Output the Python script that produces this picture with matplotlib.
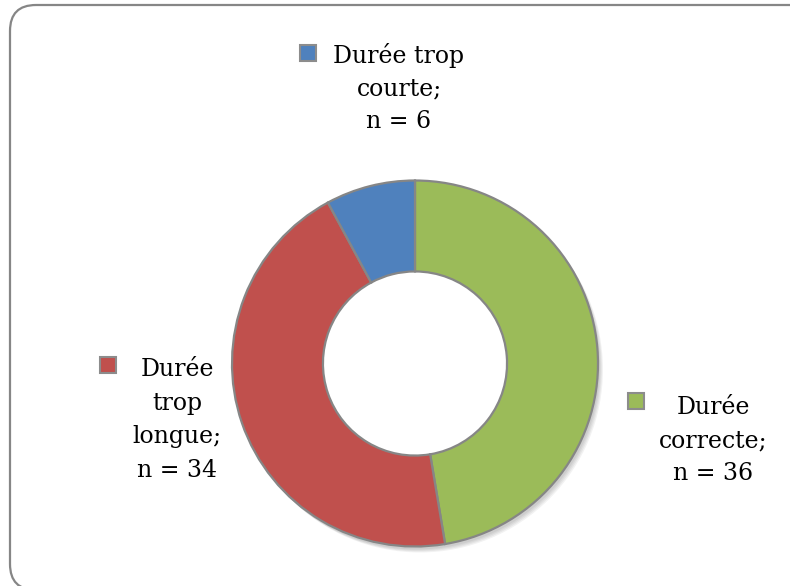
import matplotlib
matplotlib.use("Agg")
import matplotlib.pyplot as plt
from matplotlib.patches import FancyBboxPatch, Rectangle, Circle

categories = ["Durée correcte", "Durée trop longue", "Durée trop courte"]
values = [36, 34, 6]
colors = ["#9BBB59", "#C0504D", "#4F81BD"]
label_texts = ["Durée\ncorrecte;\nn = 36", "Durée\ntrop\nlongue;\nn = 34", "Durée trop\ncourte;\nn = 6"]

W, H = 790, 586
fig = plt.figure(figsize=(W / 100, H / 100), dpi=100)
ax = fig.add_axes([0, 0, 1, 1])
ax.set_xlim(0, W)
ax.set_ylim(0, H)
ax.set_aspect("equal")
ax.axis("off")

def Y(y):
    return H - y

# outer border (extends past right/bottom edges, as in the reference crop)
border = FancyBboxPatch((10, Y(590)), 840, 585,
                        boxstyle="round,pad=0,rounding_size=26",
                        facecolor="white", edgecolor="#868686", linewidth=1.6, zorder=0)
ax.add_patch(border)

cx, cy, R = 415, 363.5, 183
hole = R * 0.503
# soft shadow
for i in range(4):
    ax.add_patch(Circle((cx + 2 + i, Y(cy + 3 + i)), R, facecolor="black", alpha=0.05,
                        edgecolor="none", zorder=1))
ax.add_patch(Circle((cx, Y(cy)), hole, facecolor="white", edgecolor="none", zorder=1.5))

ax.pie(values, colors=colors, startangle=90, counterclock=False,
       center=(cx, Y(cy)), radius=R, frame=True,
       wedgeprops=dict(width=R - hole, edgecolor="#868686", linewidth=1.6, zorder=2))
ax.set_xlim(0, W)
ax.set_ylim(0, H)
ax.axis("off")

# labels: (marker x, marker y, text center x, first-line center y)
label_pos = [(628, 393, 713, 407), (100, 357, 177, 370), (300, 45, 399, 55)]
line_h = 33.5
for (mx, my, tx, ty), txt, col in zip(label_pos, label_texts, colors):
    ax.add_patch(Rectangle((mx, Y(my + 16)), 16, 16, facecolor=col,
                           edgecolor="#8c8c8c", linewidth=1.5, zorder=3))
    for k, line in enumerate(txt.split("\n")):
        ax.text(tx, Y(ty + k * line_h), line, ha="center", va="center",
                fontsize=17, family=["DejaVu Serif"], color="black", zorder=4)

fig.savefig("out.png", dpi=100)
